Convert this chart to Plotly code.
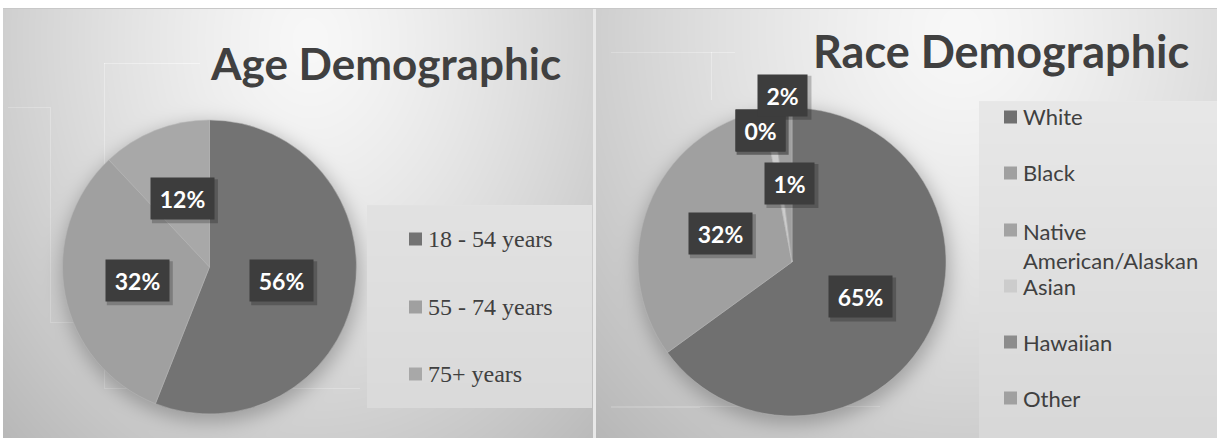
import base64
import math
import struct
import zlib

import numpy as np
import plotly.graph_objects as go

# ---------------------------------------------------------------- data
age_labels = ["18 - 54 years", "55 - 74 years", "75+ years"]
age_values = [56, 32, 12]
age_colors = ["#737373", "#a0a0a0", "#a8a8a8"]

race_labels = ["White", "Black", "Native American/Alaskan", "Asian", "Hawaiian", "Other"]
race_legend_text = ["White", "Black", "Native<br>American/Alaskan", "Asian", "Hawaiian", "Other"]
race_values = [65, 32, 0, 1, 0, 2]
race_colors = ["#707070", "#a0a0a0", "#a3a3a3", "#cccccc", "#8c8c8c", "#a0a0a0"]

# ---------------------------------------------------------------- layout
W, H = 1217, 438
TEXT = "#404040"

AGE_C, AGE_R = (209.5, 267.0), 147.0
RACE_C, RACE_R = (792.0, 262.0), 154.0

# label placement tweaks for thin slices: (angle clockwise from 12 o'clock, radius fraction)
race_label_nudge = {
    "Native American/Alaskan": (346.4, 0.88),
    "Hawaiian": (346.4, 0.88),
    "Asian": (358.5, 0.51),
    "Other": (356.9, 1.085),
}


def px(x, y):
    return x / W, 1 - y / H


def domain(center, r):
    cx, cy = center
    return dict(x=[(cx - r) / W, (cx + r) / W], y=[1 - (cy + r) / H, 1 - (cy - r) / H])


# ---------------------------------------------------------------- backdrop image
yy, xx = np.mgrid[0:H, 0:W].astype(float)
img = np.full((H, W), 255.0)


def panel(x0, x1, cx, cy, ax, ay, top=248.0, fall=46.0):
    d = np.sqrt(((xx - cx) / ax) ** 2 + ((yy - cy) / ay) ** 2)
    v = top - fall * d ** 1.3
    m = (xx >= x0) & (xx < x1) & (yy >= 9)
    img[m] = v[m]


panel(3, 593, 310, 40, 340, 430)
panel(596, W, 960, 30, 400, 440)
img[8, 3:] = 200
img[9:, 593:596] = 232


def blur(a, s):
    k = np.exp(-0.5 * (np.arange(-3 * s, 3 * s + 1) / s) ** 2)
    k /= k.sum()
    a = np.apply_along_axis(lambda r: np.convolve(r, k, mode="same"), 1, a)
    a = np.apply_along_axis(lambda c: np.convolve(c, k, mode="same"), 0, a)
    return a


# soft drop shadows under both pies
shadow = np.zeros((H, W))
for (cx, cy), r in ((AGE_C, AGE_R), (RACE_C, RACE_R)):
    shadow[((xx - cx - 1) ** 2 + (yy - cy - 5) ** 2) <= (r + 3) ** 2] = 1.0
shadow = blur(shadow, 9)
img *= 1 - 0.24 * shadow

# legend panels
m = (xx >= 367) & (xx < 592) & (yy >= 205) & (yy < 408)
img[m] = 226 - 8 * (yy[m] - 205) / 203
m = (xx >= 979) & (yy >= 101)
img[m] = 232 - 16 * (yy[m] - 101) / 337

# faint decorative rules
for (x0, x1, y0, y1) in [
    (8, 50, 107, 108), (50, 51, 107, 322), (50, 104, 322, 323),
    (104, 105, 63, 388), (104, 360, 388, 389), (104, 200, 63, 64),
    (611, 735, 52, 53), (711, 712, 52, 100), (611, 700, 407, 408),
    (611, 880, 406, 407),
]:
    img[y0:y1, x0:x1] = np.minimum(img[y0:y1, x0:x1] + 10, 245)

rgb = np.clip(img, 0, 255).astype(np.uint8)
rgb = np.stack([rgb] * 3, axis=-1)


def png_uri(a):
    h, w, _ = a.shape
    raw = b"".join(b"\x00" + a[i].tobytes() for i in range(h))

    def chunk(tag, data):
        c = struct.pack(">I", len(data)) + tag + data
        return c + struct.pack(">I", zlib.crc32(tag + data) & 0xFFFFFFFF)

    png = (b"\x89PNG\r\n\x1a\n" + chunk(b"IHDR", struct.pack(">IIBBBBB", w, h, 8, 2, 0, 0, 0))
           + chunk(b"IDAT", zlib.compress(raw, 9)) + chunk(b"IEND", b""))
    return "data:image/png;base64," + base64.b64encode(png).decode()


# ---------------------------------------------------------------- figure
fig = go.Figure()
for name, labels, values, colors, center, r in (
    ("age", age_labels, age_values, age_colors, AGE_C, AGE_R),
    ("race", race_labels, race_values, race_colors, RACE_C, RACE_R),
):
    fig.add_trace(go.Pie(
        name=name, labels=labels, values=values, sort=False, direction="clockwise",
        rotation=0, marker=dict(colors=colors, line=dict(width=0.5, color="#b8b8b8")),
        textinfo="none", hoverinfo="label+percent", showlegend=False,
        domain=domain(center, r),
    ))

annotations, shapes = [], []


def value_boxes(labels, values, center, r, nudge):
    total = float(sum(values))
    start = 0.0
    cx, cy = center
    for lab, v in zip(labels, values):
        span = 360.0 * v / total
        ang, frac = nudge.get(lab, (start + span / 2, 0.5))
        start += span
        t = math.radians(ang)
        x = cx + frac * r * math.sin(t)
        y = cy - frac * r * math.cos(t)
        txt = f"{round(100 * v / total)}%"
        bw = 59 if len(txt) > 2 else 45
        bh = 37
        shapes.append(dict(type="rect", xref="paper", yref="paper", layer="above",
                           x0=(x - bw / 2 - 1) / W, x1=(x + bw / 2 + 6) / W,
                           y0=1 - (y + bh / 2 + 6) / H, y1=1 - (y - bh / 2 - 1) / H,
                           fillcolor="rgba(0,0,0,0.22)", line=dict(width=0)))
        annotations.append(dict(x=x / W, y=1 - y / H, xref="paper", yref="paper",
                                text=f"<b>{txt}</b>", showarrow=False, width=bw, height=bh,
                                borderpad=2, bgcolor="#3d3d3d", xanchor="center",
                                yanchor="middle",
                                font=dict(family="Lato", size=23, color="#ffffff")))


value_boxes(age_labels, age_values, AGE_C, AGE_R, {})
value_boxes(race_labels, race_values, RACE_C, RACE_R, race_label_nudge)

# titles
annotations.append(dict(x=px(385, 0)[0], y=px(0, 63)[1], xref="paper", yref="paper",
                        text="<b>Age Demographic</b>", showarrow=False,
                        xanchor="center", yanchor="middle",
                        font=dict(family="Lato", size=44, color=TEXT)))
annotations.append(dict(x=px(1001, 0)[0], y=px(0, 51)[1], xref="paper", yref="paper",
                        text="<b>Race Demographic</b>", showarrow=False,
                        xanchor="center", yanchor="middle",
                        font=dict(family="Lato", size=45, color=TEXT)))


def legend(texts, colors, x_box, rows, size, family, font_size):
    for t, c, yc in zip(texts, colors, rows):
        shapes.append(dict(type="rect", xref="paper", yref="paper", layer="above",
                           x0=x_box / W, x1=(x_box + size) / W,
                           y0=1 - (yc + size / 2) / H, y1=1 - (yc - size / 2) / H,
                           fillcolor=c, line=dict(width=0)))
        annotations.append(dict(x=(x_box + size + 4) / W, y=1 - yc / H, xref="paper",
                                yref="paper", text=t, showarrow=False, align="left",
                                xanchor="left", yanchor="middle",
                                font=dict(family=family, size=font_size, color=TEXT)))


legend(age_labels, age_colors, 409, [239, 307, 374], 13, "Liberation Serif", 24)
race_rows = [117, 173, 230, 286, 342, 398]
legend(race_legend_text, race_colors, 1004, race_rows, 13, "Lato", 22)
# second line of the wrapped legend entry sits under "Native"
annotations[-4]["yanchor"] = "top"
annotations[-4]["y"] = 1 - (230 - 14) / H

fig.update_layout(
    width=W, height=H, autosize=False,
    margin=dict(l=0, r=0, t=0, b=0),
    paper_bgcolor="#ffffff", plot_bgcolor="rgba(0,0,0,0)",
    images=[dict(source=png_uri(rgb), xref="paper", yref="paper", x=0, y=1,
                 sizex=1, sizey=1, sizing="stretch", xanchor="left", yanchor="top",
                 layer="below")],
    shapes=shapes, annotations=annotations, showlegend=False,
)

fig.write_html("out.html")
